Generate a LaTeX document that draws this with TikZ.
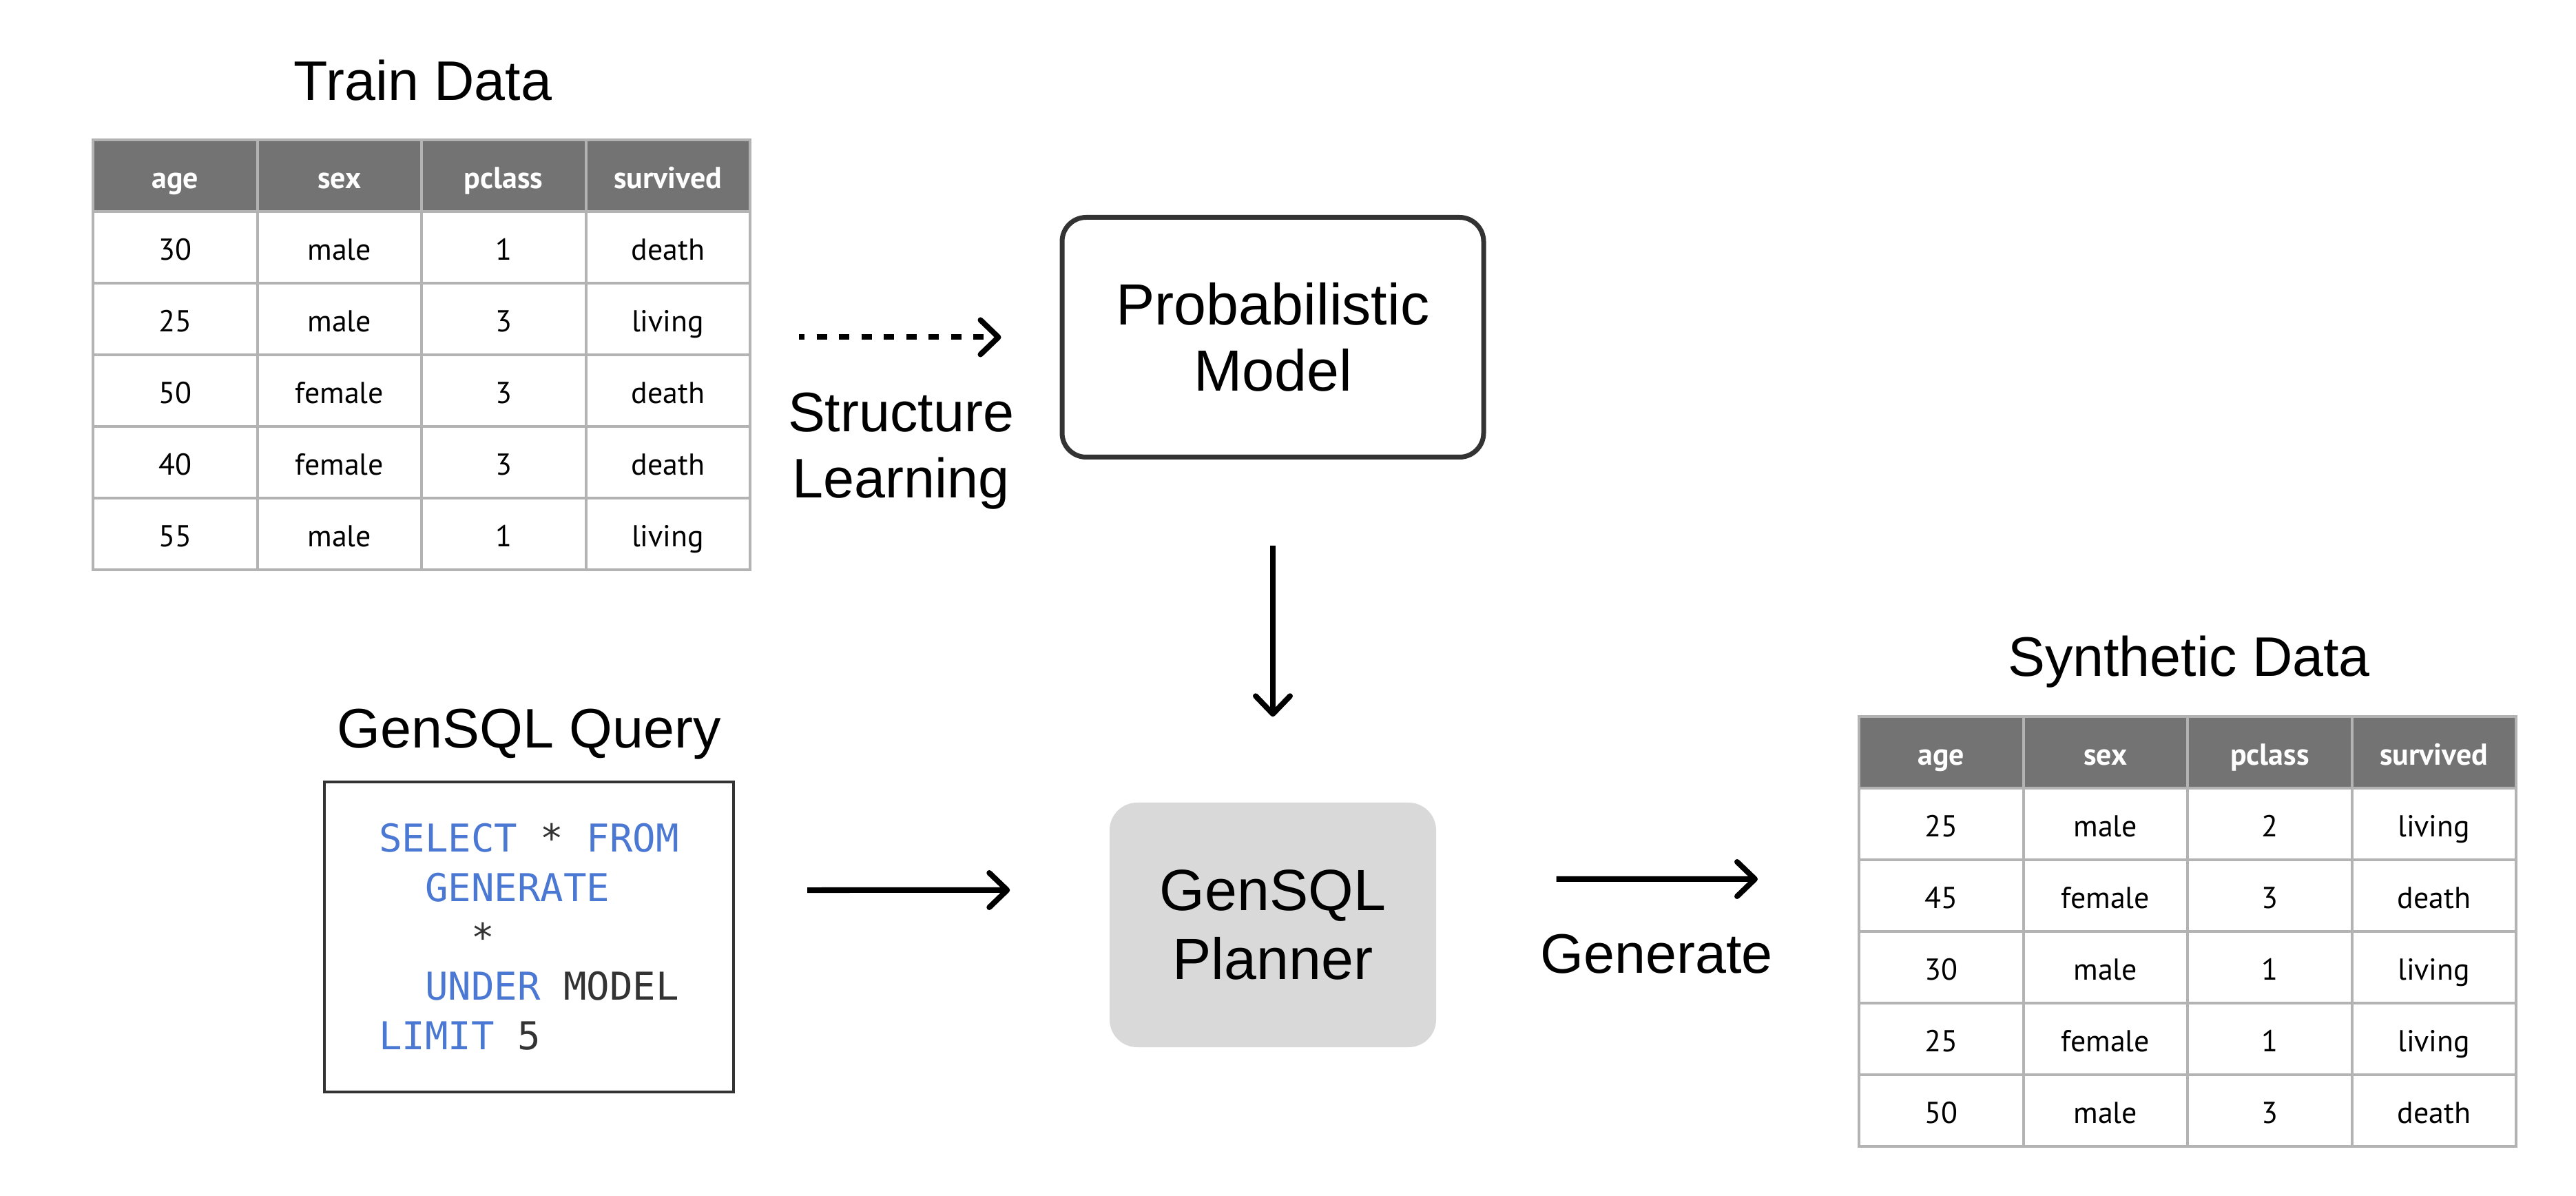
\documentclass[tikz,border=0pt]{standalone}
\usepackage{fontspec}
\setmainfont{Liberation Sans}
\newfontfamily\tablefont{PT Sans}
\newfontfamily\codefont{DejaVu Sans Mono}
\usepackage{xcolor}
\usetikzlibrary{arrows.meta,positioning}
\definecolor{headgray}{HTML}{737373}
\definecolor{gridgray}{HTML}{B3B3B3}
\definecolor{boxgray}{HTML}{333333}
\definecolor{planfill}{HTML}{D9D9D9}
\definecolor{kwblue}{HTML}{4A78D2}
\definecolor{codegray}{HTML}{333333}
\tikzset{
	cell/.style = {draw=gridgray, line width=0.04cm, minimum width=2.385cm, minimum height=1.04cm, inner sep=0pt, text height=0.47cm, text depth=0.1cm, font=\tablefont\fontsize{12.5}{15}\selectfont},
	head/.style = {cell, fill=headgray, text=white, font=\tablefont\bfseries\fontsize{12.5}{15}\selectfont},
	title/.style = {font=\fontsize{23}{27.5}\selectfont, inner sep=0pt, align=center},
	model/.style = {title, font=\fontsize{24}{27.5}\selectfont, draw=boxgray, line width=0.07cm, rounded corners=0.35cm, minimum width=6.12cm, minimum height=3.48cm},
	planner/.style = {title, font=\fontsize{24}{28.5}\selectfont, fill=planfill, rounded corners=0.4cm, minimum width=4.74cm, minimum height=3.55cm},
	query/.style = {draw=boxgray, line width=0.043cm, minimum width=5.94cm, minimum height=4.50cm, align=left, font=\codefont\fontsize{15.85}{20.4}\selectfont},
	arr/.style = {-{Straight Barb[length=0.26cm,width=0.5cm,round]}, line width=0.08cm}
}

\begin{document}
\begin{tikzpicture}
	\path[fill=white, use as bounding box] (0,0) rectangle (37.4,-17.36);

	% train table
	\foreach \h [count=\c] in {age,sex,pclass,survived}
		\node[head] (train-0-\c) at ({1.35+2.385*(\c-0.5)},-2.55) {\h};
	\foreach \a/\s/\p/\v [count=\r] in {30/male/1/death, 25/male/3/living, 50/female/3/death, 40/female/3/death, 55/male/1/living}
		\foreach \t [count=\c] in {\a,\s,\p,\v}
			\node[cell] (train-\r-\c) at ({1.35+2.385*(\c-0.5)},{-2.55-1.04*\r}) {\t};
	\node[title, anchor=base] (traintitle) at ([yshift=0.55cm]train-0-2.north east) {Train Data};

	% synthetic table
	\foreach \h [count=\c] in {age,sex,pclass,survived}
		\node[head] (synth-0-\c) at ({26.99+2.385*(\c-0.5)},-10.92) {\h};
	\foreach \a/\s/\p/\v [count=\r] in {25/male/2/living, 45/female/3/death, 30/male/1/living, 25/female/1/living, 50/male/3/death}
		\foreach \t [count=\c] in {\a,\s,\p,\v}
			\node[cell] (synth-\r-\c) at ({26.99+2.385*(\c-0.5)},{-10.92-1.04*\r}) {\t};
	\node[title, anchor=base] (synthtitle) at ([yshift=0.56cm]synth-0-2.north east) {Synthetic Data};

	% boxes
	\node[model] (model) at (18.48,-4.895) {Probabilistic\\Model};
	\node[planner] (planner) at (18.48,-13.425) {GenSQL\\Planner};
	\node[query] (query) at (7.68,-13.60) {%
		\textcolor{kwblue}{SELECT} \textcolor{codegray}{*} \textcolor{kwblue}{FROM}\\
		\phantom{XX}\textcolor{kwblue}{GENERATE}\\
		\phantom{XXXX}\textcolor{codegray}{*}\\
		\phantom{XX}\textcolor{kwblue}{UNDER} \textcolor{codegray}{MODEL}\\
		\textcolor{kwblue}{LIMIT} \textcolor{codegray}{5}};
	\node[title, anchor=base] (querytitle) at ([yshift=0.47cm]query.north) {GenSQL Query};

	% arrows
	\draw[arr, dash pattern={on 0.15cm off 0.175cm}, dash phase=0.07cm] ([xshift=-3.785cm]model.west) -- ([xshift=-0.85cm]model.west);
	\node[title, anchor=north] (learn) at (13.08,-5.69) {Structure\\Learning};
	\draw[arr] ([yshift=-1.25cm]model.south) -- ([yshift=1.24cm]planner.north);
	\draw[arr] ([shift={(1.05,0.68)}]query.east) -- ([shift={(-1.44,0.505)}]planner.west);
	\coordinate (genend) at (25.52,-12.76);
	\draw[arr] ([shift={(1.74,0.665)}]planner.east) -- (genend);
	\node[title, anchor=base] (genlabel) at (24.05,-14.12) {Generate};
\end{tikzpicture}
\end{document}
